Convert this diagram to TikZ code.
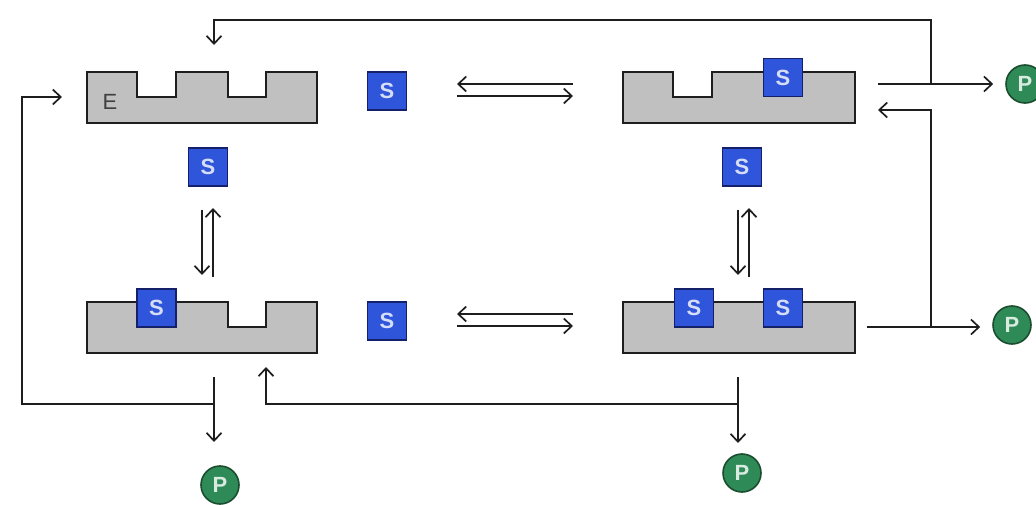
\documentclass[tikz,border=0pt]{standalone}
\usepackage{fontspec}
\setmainfont{Liberation Sans}
\usetikzlibrary{arrows.meta}
\definecolor{enzgray}{HTML}{C0C0C0}
\definecolor{sblue}{HTML}{2F55DA}
\definecolor{snavy}{HTML}{14206A}
\definecolor{pgreen}{HTML}{2E8B57}
\definecolor{pdark}{HTML}{1B4D2E}
\definecolor{ink}{HTML}{1E1E1E}
\begin{document}
\begin{tikzpicture}[x=1pt,y=-1pt,
  enz/.style={fill=enzgray,draw=ink,line width=1.8pt,line join=miter},
  enzbox/.style={rectangle,minimum width=230pt,minimum height=51pt,inner sep=0pt},
  sub/.style={rectangle,minimum width=39pt,minimum height=38pt,inner sep=0pt,fill=sblue,draw=snavy,line width=1.4pt,text=white!80!sblue,font=\bfseries\fontsize{22}{22}\selectfont},
  prod/.style={circle,minimum size=38pt,inner sep=0pt,fill=pgreen,draw=pdark,line width=1.6pt,text=white!82!pgreen,font=\bfseries\fontsize{22}{22}\selectfont},
  conn/.style={draw=ink,line width=1.7pt,-{Straight Barb[length=8pt,width=15pt]}},
  wire/.style={draw=ink,line width=1.7pt}]
\useasboundingbox (0,0) rectangle (1036,505);
% enzymes
\path[enz] (87,72) -- (137,72) -- (137,97) -- (176,97) -- (176,72) -- (228,72) -- (228,97) -- (266,97) -- (266,72) -- (317,72) -- (317,123) -- (87,123) -- cycle;
\path[enz] (623,72) -- (673,72) -- (673,97) -- (712,97) -- (712,72) -- (855,72) -- (855,123) -- (623,123) -- cycle;
\path[enz] (87,302) -- (228,302) -- (228,327) -- (266,327) -- (266,302) -- (317,302) -- (317,353) -- (87,353) -- cycle;
\path[enz] (623,302) -- (855,302) -- (855,353) -- (623,353) -- cycle;
\node[enzbox] (e1) at (202,97.5) {};
\node[enzbox] (e2) at (739,97.5) {};
\node[enzbox] (e3) at (202,327.5) {};
\node[enzbox] (e4) at (739,327.5) {};
\node[text=ink!85!white,font=\fontsize{22}{22}\selectfont] (elab) at (110,102) {E};
% substrates
\node[sub] (s1) at (387,91) {S};
\node[sub] (s2) at (208,167) {S};
\node[sub] (s3) at (742,167) {S};
\node[sub] (s4) at (387,321) {S};
\node[sub] (s5) at (783,77.5) {S};
\node[sub] (s6) at (156.5,308) {S};
\node[sub] (s7) at (694,308) {S};
\node[sub] (s8) at (783,308) {S};
% products
\node[prod] (p1) at (1025,84) {P};
\node[prod] (p2) at (1012,325) {P};
\node[prod] (p3) at (220,485) {P};
\node[prod] (p4) at (742,473) {P};
% equilibria
\draw[conn] (573,84) -- (457,84);
\draw[conn] (457,96) -- (573,96);
\draw[conn] (573,314) -- (457,314);
\draw[conn] (457,326) -- (573,326);
\draw[conn] (202,210) -- (202,275);
\draw[conn] (213,277) -- (213,208);
\draw[conn] (738,210) -- (738,275);
\draw[conn] (749,277) -- (749,208);
% product release and recycling
\coordinate (a1) at (878,84);
\coordinate (b1) at (931,84);
\draw[conn,shorten >=12pt] (a1) -- (p1.west);
\draw[conn] (b1) -- (931,20) -- (214,20) -- (214,45);
\coordinate (a2) at (867,327);
\coordinate (b2) at (931,327);
\draw[conn,shorten >=12pt] (a2) -- (p2.west |- a2);
\draw[conn] (b2) -- (931,110) -- (878,110);
\coordinate (a3) at (214,377);
\coordinate (b3) at (214,404);
\draw[conn,shorten >=24pt] (a3) -- (214,466);
\draw[conn] (b3) -- (22,404) -- (22,97) -- (62,97);
\coordinate (a4) at (738,377);
\coordinate (b4) at (738,404);
\draw[conn,shorten >=11pt] (a4) -- (738,454);
\draw[conn] (b4) -- (266,404) -- (266,367);
\end{tikzpicture}
\end{document}
